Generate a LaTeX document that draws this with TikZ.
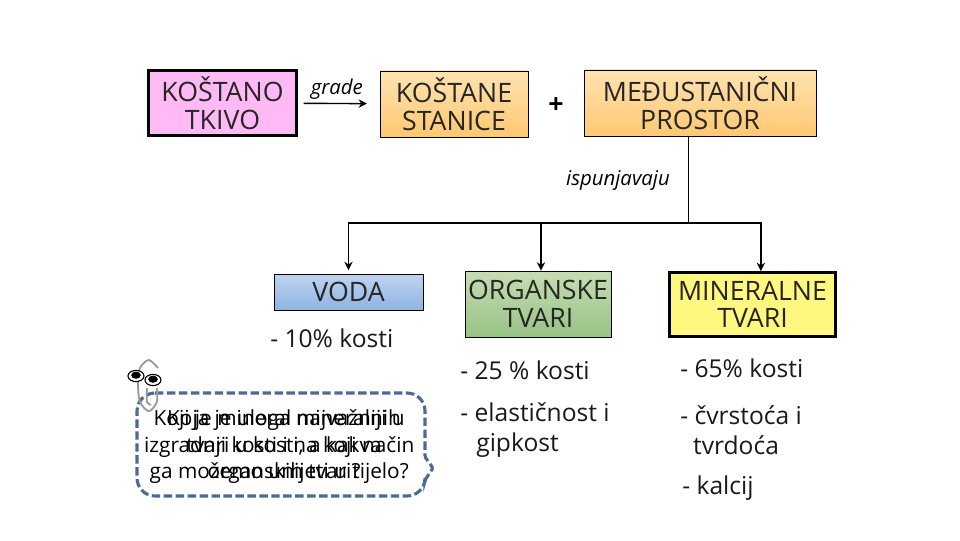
\documentclass[tikz,border=0pt]{standalone}
\usepackage{fontspec}
\setmainfont{Open Sans}
\usepackage{xcolor}
\usetikzlibrary{arrows.meta,positioning,calc}
\definecolor{callblue}{HTML}{4A6B96}
\definecolor{ortop}{HTML}{FFE3B0}
\definecolor{orbot}{HTML}{FFC873}
\definecolor{blutop}{HTML}{BFD4EF}
\definecolor{blubot}{HTML}{8FB3E3}
\definecolor{grntop}{HTML}{C6DDB3}
\definecolor{grnbot}{HTML}{97C285}

\begin{document}
\begin{tikzpicture}[
    >={Stealth[length=6pt,width=6pt]},
    big/.style={font=\fontsize{19}{19.8}\selectfont, align=center, text=black!85},
    plainbox/.style={big, draw=black, line width=0.5pt, inner sep=0pt},
    heavybox/.style={big, draw=black, line width=2pt, inner sep=0pt},
    note/.style={font=\fontsize{17.5}{21}\selectfont, anchor=west, align=left, inner sep=0pt, text=black!90},
    verb/.style={font=\fontsize{14.5}{16}\itshape\selectfont, inner sep=0pt},
    quest/.style={font=\fontsize{14.8}{18.7}\selectfont, align=center, inner sep=0pt}
]
\useasboundingbox (0,0) rectangle (24,13.5);

\node[heavybox, fill={rgb,255:red,255;green,186;blue,245}, minimum width=3.7cm, minimum height=1.63cm] (tkivo) at (5.5625,10.925) {KOŠTANO\\TKIVO};
\node[plainbox, top color=ortop, bottom color=orbot, minimum width=3.7cm, minimum height=1.65cm] (stanice) at (11.35,10.9) {KOŠTANE\\STANICE};
\node[plainbox, top color=ortop, bottom color=orbot, minimum width=5.8cm, minimum height=1.65cm] (prostor) at (17.5,10.925) {MEĐUSTANIČNI\\PROSTOR};
\node[font=\fontsize{19}{20}\bfseries\selectfont] (plus) at (13.9,10.85) {+};

\draw[->, line width=1pt, shorten <=4pt, shorten >=9pt] (tkivo) -- (stanice);
\node[verb] (grade) at (8.42,11.28) {grade};

\node[plainbox, top color=blutop, bottom color=blubot, minimum width=3.725cm, minimum height=0.9cm] (voda) at (8.7125,6.2) {VODA};
\node[plainbox, top color=grntop, bottom color=grnbot, minimum width=3.65cm, minimum height=1.65cm] (organske) at (13.45,5.9) {ORGANSKE\\TVARI};
\node[heavybox, fill=yellow!50, minimum width=4.15cm, minimum height=1.6cm] (mineralne) at (18.8125,5.8875) {MINERALNE\\TVARI};

\coordinate (junc) at (17.2,7.925);
\draw[line width=0.6pt] ([xshift=-0.3cm]prostor.south) -- (junc);
\node[verb] (ispun) at (15.45,9) {ispunjavaju};
\draw[->, line width=1pt, shorten >=2.5pt] (junc) -| (voda.north);
\draw[->, line width=1pt] (junc) -| ([xshift=0.075cm]organske.north);
\draw[->, line width=1pt] (junc) -| ([xshift=0.21cm]mineralne.north);

\node[note] (n10) at (6.75,5.05) {- 10\% kosti};
\node[note] (n25) at (11.5,4.25) {- 25 \% kosti};
\node[note] (n65) at (17,4.3) {- 65\% kosti};
\node[note] (elast) at (11.5,2.75) {- elastičnost i\\\hspace*{0.4cm}gipkost};
\node[note] (cvrst) at (17,2.75) {- čvrstoća i\\\hspace*{0.32cm}tvrdoća};
\node[note] (kalcij) at (17.05,1.3) {- kalcij};

% callout
\draw[callblue, line width=2.2pt, dashed, dash pattern=on 6pt off 2.5pt, rounded corners=0.45cm]
    (3.425,3.675) -- (10.625,3.675) [rounded corners=1pt] -- (10.625,2.075) -- (10.825,1.8) -- (10.625,1.5) [rounded corners=0.45cm] -- (10.625,1.1) -- (3.425,1.1) -- cycle;
\node[quest] (questa) at (6.98,2.33) {Koji je mineral najvažniji u\\izgradnji kosti i na koji način\\ga možemo unijeti u tijelo?};
\node[quest] (questb) at (7.1,2.33) {Koja je uloga mineralnih\\tvari u kosti, a kakva\\organskih tvari?};

% paperclip
\draw[gray!80, line width=1.3pt, smooth] plot coordinates {(3.92,3.8) (3.92,3.45) (3.725,3.22) (3.5,3.45) (3.45,3.9) (3.5,4.3) (3.72,4.5) (3.95,4.3)};
\draw[gray!80, line width=1.3pt, smooth] plot coordinates {(3.675,3.8) (3.675,3.45) (3.78,3.38)};
\draw[fill=white, line width=0.8pt] (3.4,4.1) ellipse (0.2 and 0.14);
\draw[fill=white, line width=0.8pt] (3.825,4.0) ellipse (0.2 and 0.14);
\fill (3.4,4.12) ellipse (0.12 and 0.09);
\fill (3.825,4.02) ellipse (0.12 and 0.09);
\end{tikzpicture}
\end{document}
